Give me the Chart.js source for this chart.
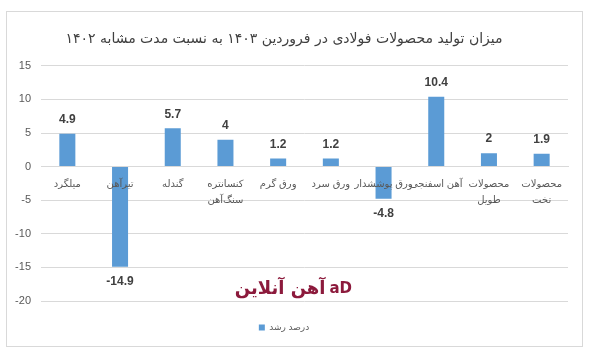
<!DOCTYPE html>
<html lang="fa">
<head>
<meta charset="utf-8">
<script src="https://cdn.jsdelivr.net/npm/chart.js@4.4.1/dist/chart.umd.min.js"></script>
<style>
    html, body { margin: 0; padding: 0; background: #fff; }
    #wrap { position: relative; width: 592px; height: 354px; }
</style>
</head>
<body>
<div id="wrap"><canvas id="chart"></canvas></div>
<script>
// --- data ---
const categories = [
    'میلگرد',
    'تیرآهن',
    'گندله',
    ['کنسانتره', 'سنگ‌آهن'],
    'ورق گرم',
    'ورق سرد',
    'ورق پوششدار',
    'آهن اسفنجی',
    ['محصولات', 'طویل'],
    ['محصولات', 'تخت']
];
const growth = [4.9, -14.9, 5.7, 4, 1.2, 1.2, -4.8, 10.4, 2, 1.9];
const yTicks = [15, 10, 5, 0, -5, -10, -15, -20];
const seriesName = 'درصد رشد';
const titleText = 'میزان تولید محصولات فولادی در فروردین ۱۴۰۳ به نسبت مدت مشابه ۱۴۰۲';
const watermark = 'آهن آنلاین';

const FONT = '"Liberation Sans", "DejaVu Sans", sans-serif';
Chart.defaults.font.family = FONT;

// frame round the whole chart
const framePlugin = {
    id: 'frame',
    beforeDraw(chart) {
        const ctx = chart.ctx;
        ctx.save();
        ctx.fillStyle = '#fff';
        ctx.fillRect(0, 0, chart.width, chart.height);
        ctx.strokeStyle = '#d9d9d9';
        ctx.lineWidth = 1;
        ctx.strokeRect(6.5, 11.5, 576, 335);
        ctx.restore();
    }
};

// logo text in the middle of the plot
const watermarkPlugin = {
    id: 'watermark',
    beforeDatasetsDraw(chart) {
        const ctx = chart.ctx;
        const x = chart.scales.x.getPixelForValue(4.5);
        const y = chart.scales.y.getPixelForValue(-18.3);
        ctx.save();
        ctx.fillStyle = '#8c1a3c';
        ctx.textBaseline = 'middle';
        ctx.font = 'bold 18px "DejaVu Sans", sans-serif';
        ctx.textAlign = 'right';
        ctx.fillText(watermark, x + 21, y);
        ctx.font = 'bold 15px "DejaVu Sans", sans-serif';
        ctx.textAlign = 'left';
        ctx.fillText('aD', x + 25, y);
        ctx.restore();
    }
};

// numbers over / under each bar
const valueLabels = {
    id: 'valueLabels',
    afterDatasetsDraw(chart) {
        const ctx = chart.ctx;
        const meta = chart.getDatasetMeta(0);
        ctx.save();
        ctx.font = 'bold 12px ' + FONT;
        ctx.fillStyle = '#404040';
        ctx.textAlign = 'center';
        ctx.textBaseline = 'middle';
        meta.data.forEach((bar, i) => {
            const v = growth[i];
            const y = v >= 0 ? bar.y - 14 : bar.y + 15;
            ctx.fillText(String(v), bar.x, y);
        });
        ctx.restore();
    }
};

new Chart(document.getElementById('chart'), {
    type: 'bar',
    data: {
        labels: categories,
        datasets: [{
            label: seriesName,
            data: growth,
            backgroundColor: '#5b9bd5',
            categoryPercentage: 0.8,
            barPercentage: 0.38
        }]
    },
    options: {
        responsive: true,
        maintainAspectRatio: false,
        animation: false,
        layout: { padding: { left: 0, right: 24, top: 0, bottom: 12 } },
        plugins: {
            title: {
                display: true,
                text: titleText,
                color: '#404040',
                font: { family: '"DejaVu Sans", sans-serif', size: 14, weight: 'normal' },
                padding: { top: 31, bottom: 18 }
            },
            legend: {
                position: 'bottom',
                labels: {
                    boxWidth: 6,
                    boxHeight: 6,
                    color: '#595959',
                    font: { size: 9 },
                    padding: 22
                }
            },
            tooltip: { enabled: false }
        },
        scales: {
            x: {
                position: { y: 0 },
                grid: { display: false, drawTicks: false },
                border: { color: '#d9d9d9' },
                ticks: {
                    z: 1,
                    autoSkip: false,
                    maxRotation: 0,
                    padding: 10,
                    color: '#595959',
                    font: { size: 10, lineHeight: 1.6 }
                }
            },
            y: {
                min: -20,
                max: 15,
                afterBuildTicks: s => { s.ticks = yTicks.map(v => ({ value: v })); },
                afterFit: s => { s.width = 41; },
                grid: { color: '#d9d9d9', drawTicks: false },
                border: { display: false },
                ticks: {
                    padding: 10,
                    color: '#595959',
                    font: { size: 11 }
                }
            }
        }
    },
    plugins: [framePlugin, watermarkPlugin, valueLabels]
});
</script>
</body>
</html>
